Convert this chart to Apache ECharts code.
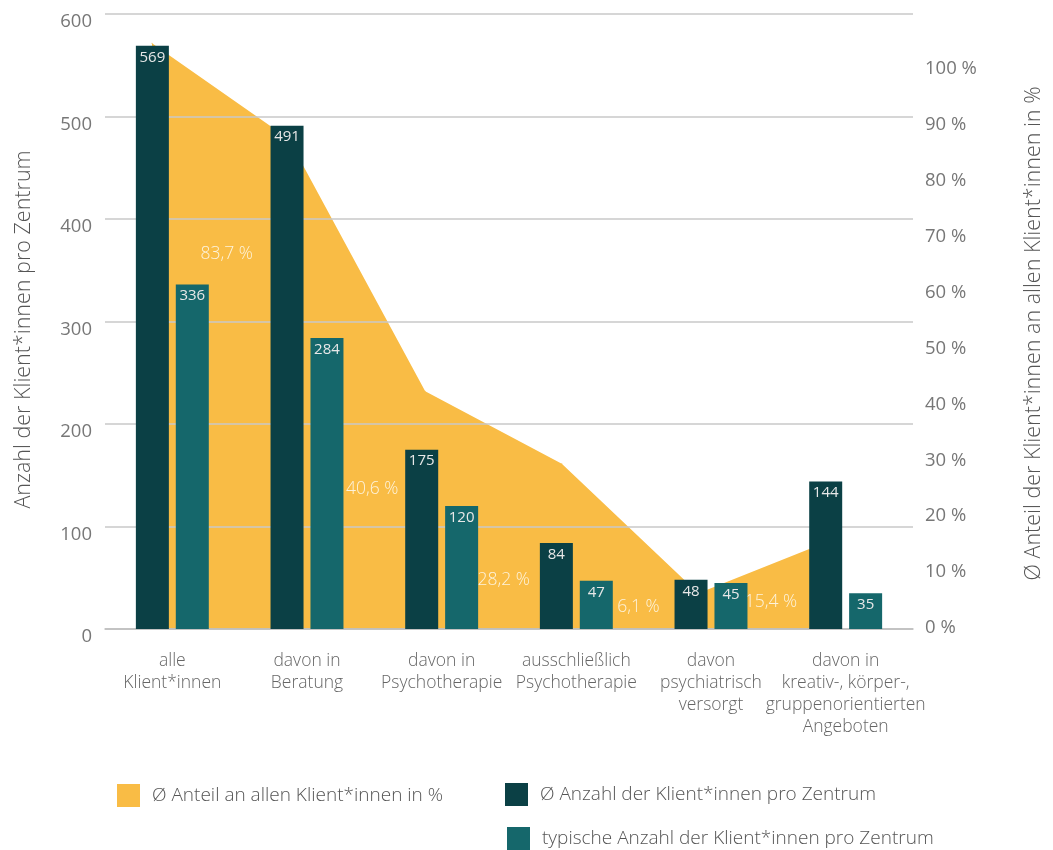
<!DOCTYPE html>
<html>
<head>
<meta charset="utf-8">
<script src="https://cdn.jsdelivr.net/npm/echarts@6/dist/echarts.min.js"></script>
<style>
html,body{margin:0;padding:0;background:#fff;}
#chart{width:1053px;height:850px;}
</style>
</head>
<body>
<div id="chart"></div>
<script>
const categories = [
  "alle\nKlient*innen",
  "davon in\nBeratung",
  "davon in\nPsychotherapie",
  "ausschließlich\nPsychotherapie",
  "davon\npsychiatrisch\nversorgt",
  "davon in\nkreativ-, körper-,\ngruppenorientierten\nAngeboten"
];
const meanCounts = [569, 491, 175, 84, 48, 144];
const typicalCounts = [336, 284, 120, 47, 45, 35];
const shares = [100, 83.7, 40.6, 28.2, 6.1, 15.4];

const seriesNames = [
  "Ø Anteil an allen Klient*innen in %",
  "Ø Anzahl der Klient*innen pro Zentrum",
  "typische Anzahl der Klient*innen pro Zentrum"
];
const leftAxisName = "Anzahl der Klient*innen pro Zentrum";
const rightAxisName = "Ø Anteil der Klient*innen an allen Klient*innen in %";

const FONT = "Open Sans";
const YELLOW = "#f9bc45", DARK = "#0b4045", TEAL = "#15676b";

// label placement for the share values (style only)
const shareLabelOffsets = [null, [-62, 115], [-53, 98], [-58, 116], [-60, 14], [-64, 63]];

const fmtPct = v => String(v).replace('.', ',') + ' %';

const shareData = shares.map((v, i) => ({
  value: v,
  label: shareLabelOffsets[i]
    ? { show: true, offset: shareLabelOffsets[i] }
    : { show: false }
}));

const chart = echarts.init(document.getElementById('chart'), null, { renderer: 'canvas' });

const legendBase = {
  icon: 'rect', itemWidth: 23, itemHeight: 23, orient: 'horizontal', padding: 0,
  textStyle: { fontFamily: FONT, fontWeight: 300, fontSize: 19, color: '#555', padding: [0, 0, 0, 7] },
  selectedMode: false
};

chart.setOption({
  animation: false,
  textStyle: { fontFamily: FONT },
  legend: [
    Object.assign({}, legendBase, { left: 117, top: 784, data: [seriesNames[0]] }),
    Object.assign({}, legendBase, { left: 505, top: 783, data: [seriesNames[1]] }),
    Object.assign({}, legendBase, { left: 507, top: 827, data: [seriesNames[2]] })
  ],
  grid: [
    { left: 105, right: 140, top: 14, bottom: 221 },
    { left: 152, right: 212, top: 14, bottom: 221 },
    { left: 105, right: 140, top: 69, bottom: 222 }
  ],
  xAxis: [
    {
      gridIndex: 0, type: 'category', data: categories,
      axisLine: { lineStyle: { color: '#bdbdbd', width: 1.5 } },
      axisTick: { show: false },
      axisLabel: { interval: 0, color: '#666', fontSize: 17.5, fontWeight: 300, lineHeight: 22, margin: 21, fontFamily: FONT }
    },
    { gridIndex: 1, type: 'category', data: categories, boundaryGap: false, show: false },
    { gridIndex: 2, type: 'category', data: categories, show: false }
  ],
  yAxis: [
    {
      gridIndex: 0, type: 'value', min: 0, max: 600, interval: 100, position: 'left',
      axisLine: { show: false }, axisTick: { show: false },
      axisLabel: { color: '#777', fontSize: 18.5, margin: 13, fontFamily: FONT, verticalAlign: 'top', lineHeight: 16 },
      splitLine: { lineStyle: { color: '#c9c9c9', width: 1.5 } },
      name: leftAxisName, nameLocation: 'middle', nameGap: 70,
      nameTextStyle: { color: '#555', fontSize: 21.5, fontWeight: 300, fontFamily: FONT, padding: [0, 16, 0, 0] }
    },
    {
      gridIndex: 1, type: 'value', min: 0, max: 105, position: 'right',
      axisLine: { show: false }, axisTick: { show: false }, axisLabel: { show: false },
      splitLine: { show: false },
      name: rightAxisName, nameLocation: 'middle', nameGap: 188, nameRotate: 90,
      nameTextStyle: { color: '#555', fontSize: 21.5, fontWeight: 300, fontFamily: FONT, padding: [0, 24, 0, 0] }
    },
    {
      gridIndex: 2, type: 'value', min: 0, max: 100, interval: 10, position: 'right',
      axisLine: { show: false }, axisTick: { show: false },
      axisLabel: { color: '#777', fontSize: 18.5, margin: 12, fontFamily: FONT, formatter: '{value} %' },
      splitLine: { show: false }
    }
  ],
  series: [
    {
      name: seriesNames[0], type: 'line', xAxisIndex: 1, yAxisIndex: 1,
      data: shareData, z: -1,
      showSymbol: true, symbol: 'circle', symbolSize: 1,
      itemStyle: { color: YELLOW },
      lineStyle: { width: 0, color: YELLOW },
      areaStyle: { color: YELLOW, opacity: 1 },
      label: {
        show: true, position: 'inside', color: '#fdf3dc', fontSize: 17.5, fontWeight: 300,
        fontFamily: FONT, formatter: p => fmtPct(p.value)
      },
      emphasis: { disabled: true }
    },
    {
      name: seriesNames[1], type: 'bar', xAxisIndex: 0, yAxisIndex: 0,
      data: meanCounts, barWidth: 33, barGap: '21%',
      itemStyle: { color: DARK },
      label: { show: true, position: 'insideTop', distance: 4, color: '#e8e8e8', fontSize: 15, fontFamily: FONT },
      emphasis: { disabled: true }
    },
    {
      name: seriesNames[2], type: 'bar', xAxisIndex: 0, yAxisIndex: 0,
      data: typicalCounts, barWidth: 33, barGap: '21%',
      itemStyle: { color: TEAL },
      label: { show: true, position: 'insideTop', distance: 4, color: '#e8e8e8', fontSize: 15, fontFamily: FONT },
      emphasis: { disabled: true }
    }
  ]
});
</script>
</body>
</html>
